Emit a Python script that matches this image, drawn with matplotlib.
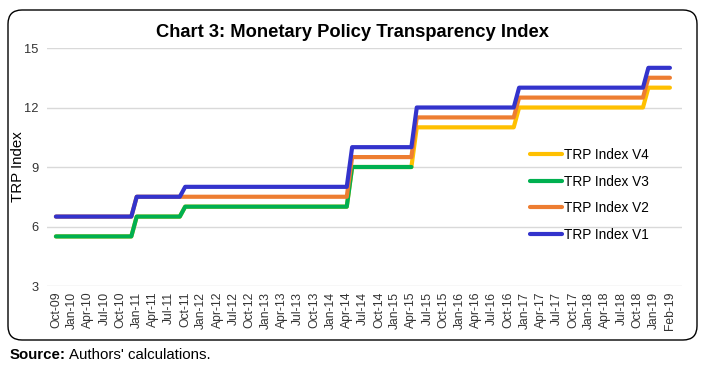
import matplotlib
matplotlib.use('Agg')
import matplotlib.pyplot as plt
from matplotlib.patches import FancyBboxPatch
from matplotlib.transforms import IdentityTransform

plt.rcParams['font.family'] = ['Liberation Sans', 'DejaVu Sans']

# x axis categories (quarterly labels + last month)
tick_labels = ['Oct-09', 'Jan-10', 'Apr-10', 'Jul-10', 'Oct-10', 'Jan-11', 'Apr-11', 'Jul-11',
               'Oct-11', 'Jan-12', 'Apr-12', 'Jul-12', 'Oct-12', 'Jan-13', 'Apr-13', 'Jul-13',
               'Oct-13', 'Jan-14', 'Apr-14', 'Jul-14', 'Oct-14', 'Jan-15', 'Apr-15', 'Jul-15',
               'Oct-15', 'Jan-16', 'Apr-16', 'Jul-16', 'Oct-16', 'Jan-17', 'Apr-17', 'Jul-17',
               'Oct-17', 'Jan-18', 'Apr-18', 'Jul-18', 'Oct-18', 'Jan-19', 'Feb-19']

# step changes: (month the new value applies, value); months counted from Oct-09
v1_months = [0, 15, 24, 55, 67, 86, 110]
v1_values = [6.5, 7.5, 8, 10, 12, 13, 14]
v2_months = [0, 15, 55, 67, 86, 110]
v2_values = [6.5, 7.5, 9.5, 11.5, 12.5, 13.5]
v3_months = [0, 15, 24, 55]
v3_values = [5.5, 6.5, 7, 9]
v3_end = 66
v4_months = [0, 15, 24, 55, 67, 86, 110]
v4_values = [5.5, 6.5, 7, 9, 11, 12, 13]
last_month = 112  # Feb-19


def pos(m):
    # months -> category position (quarterly categories, Feb-19 is the last one)
    if m >= last_month:
        return len(tick_labels) - 1
    return m / 3.0


def step_line(months, values, end):
    xs, ys = [pos(months[0])], [values[0]]
    for m, v in zip(months[1:], values[1:]):
        xs.append(pos(m - 1)); ys.append(ys[-1])
        xs.append(pos(m)); ys.append(v)
    xs.append(pos(end)); ys.append(ys[-1])
    return xs, ys


fig = plt.figure(figsize=(7.04, 3.67), dpi=100)
ax = fig.add_axes([0.0668, 0.2207, 0.9020, 0.6485])

series = [
    ('TRP Index V4', v4_months, v4_values, last_month, '#FFC000'),
    ('TRP Index V3', v3_months, v3_values, v3_end, '#00B050'),
    ('TRP Index V2', v2_months, v2_values, last_month, '#ED7D31'),
    ('TRP Index V1', v1_months, v1_values, last_month, '#3333CC'),
]
for i, (name, mm, vv, end, col) in enumerate(series):
    xs, ys = step_line(mm, vv, end)
    ax.plot(xs, ys, color=col, lw=3, label=name, solid_capstyle='round',
            solid_joinstyle='round', zorder=3 + i)

ax.set_ylim(3, 15)
ax.set_yticks([3, 6, 9, 12, 15])
ax.set_xlim(-0.55, 38.75)
ax.set_xticks(range(len(tick_labels)))
ax.set_xticklabels(tick_labels, rotation=90, fontsize=8.7, color='#333333')
ax.tick_params(axis='y', labelsize=9.3, colors='#333333', length=0, pad=6)
ax.tick_params(axis='x', length=0, pad=4)
ax.grid(axis='y', color='#D9D9D9', lw=1)
for s in ax.spines.values():
    s.set_visible(False)
fig.text(18 / 704, 0.545, 'TRP Index', rotation=90, fontsize=10.8, ha='center', va='center')

leg = ax.legend(loc='upper left', bbox_to_anchor=(0.753, 0.597), bbox_transform=fig.transFigure,
                frameon=False, fontsize=9.8, handlelength=2.35, handletextpad=0.15,
                labelspacing=0.93, borderpad=0, borderaxespad=0)

fig.suptitle('Chart 3: Monetary Policy Transparency Index', x=0.5, y=0.935,
             fontsize=13.2, fontweight='bold')

box = FancyBboxPatch((8, 27), 689, 330, boxstyle='round,pad=0,rounding_size=14',
                     transform=IdentityTransform(), fill=False, ec='black', lw=1)
fig.patches.append(box)

src = fig.text(10 / 704, 0.022, 'Source:', fontsize=10.8, fontweight='bold', va='baseline')
fig.canvas.draw()
bb = src.get_window_extent()
fig.text((bb.x1 + 3) / 704, 0.022, "Authors' calculations.", fontsize=10.8, va='baseline')

fig.savefig('out.png', dpi=100)
